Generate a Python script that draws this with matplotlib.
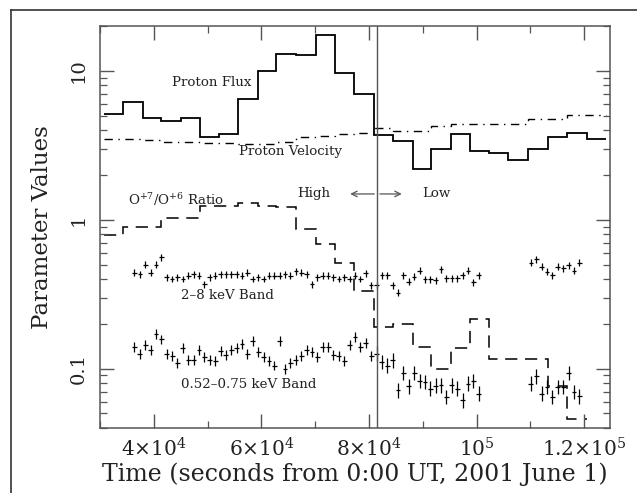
import matplotlib
matplotlib.use("Agg")
import matplotlib.pyplot as plt
import numpy as np
from matplotlib.lines import Line2D
from matplotlib.ticker import FixedLocator, FixedFormatter, MultipleLocator, LogLocator, NullFormatter

plt.rcParams["font.family"] = "DejaVu Serif"
plt.rcParams["mathtext.fontset"] = "dejavuserif"

# hourly bin edges (s) shared by the step curves
hour_edges = [30700, 34300, 37900, 41400, 45100, 48600, 52100, 55600, 59300,
              62800, 66400, 70200, 73600, 77300, 80900, 84400, 88100, 91600,
              95200, 98800, 102300, 105900, 109600, 113300, 116900, 120500, 124000]
proton_flux = [5.1, 6.2, 4.8, 4.6, 4.8, 3.6, 3.75, 6.5, 9.9, 13.0, 12.7, 17.3, 9.6,
               7.0, 3.7, 3.4, 2.2, 3.0, 3.75, 2.9, 2.8, 2.5, 3.0, 3.6, 3.85, 3.5]
proton_velocity = [3.47, 3.47, 3.45, 3.33, 3.31, 3.30, 3.26, 3.24, 3.24, 3.35, 3.62,
                   3.65, 3.78, 3.85, 4.1, 3.97, 3.97, 4.27, 4.4, 4.4, 4.4, 4.4,
                   4.75, 4.75, 5.06, 5.06]
o_ratio = [0.79, 0.89, 0.89, 1.03, 1.03, 1.24, 1.24, 1.3, 1.24, 1.22, 0.87, 0.69,
           0.51, 0.33, 0.19, 0.20, 0.14, 0.10, 0.137, 0.215, 0.116, 0.116, 0.116,
           0.077, 0.046]

# 1000 s light-curve bins
band_times = [36400, 37400, 38400, 39400, 40400, 41400, 42400, 43400, 44400, 45400,
              46400, 47400, 48400, 49400, 50400, 51400, 52400, 53400, 54400, 55400,
              56400, 57400, 58400, 59400, 60400, 61400, 62400, 63400, 64400, 65400,
              66400, 67400, 68400, 69400, 70400, 71400, 72400, 73400, 74400, 75400,
              76400, 77400, 78400, 79400, 80400, 81400, 82400, 83400, 84400, 85400,
              86400, 87400, 88400, 89400, 90400, 91400, 92400, 93400, 94400, 95400,
              96400, 97400, 98400, 99400, 100400]
hard_band = [0.44, 0.43, 0.50, 0.44, 0.50, 0.56, 0.41, 0.40, 0.41, 0.40,
             0.42, 0.43, 0.42, 0.37, 0.41, 0.42, 0.43, 0.43, 0.43, 0.43,
             0.42, 0.44, 0.40, 0.41, 0.40, 0.42, 0.42, 0.42, 0.43, 0.42,
             0.45, 0.44, 0.43, 0.37, 0.41, 0.42, 0.42, 0.41, 0.40, 0.41,
             0.40, 0.42, 0.40, 0.436, 0.364, 0.364, 0.425, 0.425, 0.364, 0.323,
             0.425, 0.383, 0.414, 0.454, 0.397, 0.397, 0.393, 0.464, 0.404, 0.404,
             0.404, 0.425, 0.454, 0.379, 0.425]
soft_band = [0.139, 0.125, 0.144, 0.134, 0.172, 0.157, 0.126, 0.121, 0.109, 0.137,
             0.115, 0.115, 0.134, 0.120, 0.115, 0.113, 0.132, 0.123, 0.133, 0.137,
             0.146, 0.126, 0.154, 0.129, 0.120, 0.113, 0.105, 0.154, 0.100, 0.109,
             0.114, 0.121, 0.134, 0.129, 0.120, 0.139, 0.140, 0.123, 0.121, 0.113,
             0.144, 0.162, 0.140, 0.148, 0.121, 0.126, 0.111, 0.105, 0.114, 0.0716,
             0.0936, 0.0762, 0.0936, 0.0827, 0.0814, 0.0735, 0.077, 0.0773, 0.0645, 0.0773,
             0.0735, 0.0614, 0.0794, 0.0827, 0.068]
late_times = [110100, 111100, 112100, 113100, 114100, 115100, 116100, 117100, 118100, 119100]
hard_late = [0.514, 0.542, 0.483, 0.447, 0.425, 0.483, 0.471, 0.496, 0.454, 0.514]
soft_late = [0.0794, 0.0889, 0.068, 0.0754, 0.0645, 0.0754, 0.0754, 0.0936, 0.0697, 0.0652]

boundary_time = 81500

fig = plt.figure(figsize=(6.37, 4.93), dpi=100)
ax = fig.add_axes([0.157, 0.132, 0.8006, 0.8153])

ax.stairs(proton_flux, hour_edges, baseline=None, color="k", lw=1.3)
ax.stairs(proton_velocity, hour_edges, baseline=None, color="k", lw=1.0,
          linestyle=(0, (6, 4, 1, 4)))
ax.stairs(o_ratio, hour_edges[:len(o_ratio) + 1], baseline=None, color="k", lw=1.1,
          linestyle=(0, (8, 5)))


def crosses(t, v, frac, half_w):
    v = np.asarray(v)
    lo = v - v / frac
    hi = v * frac - v
    ax.errorbar(t, v, xerr=half_w, yerr=[lo, hi], fmt="none", ecolor="k",
                elinewidth=0.9, capsize=0)


bt = np.asarray(band_times)
crosses(band_times, hard_band, 1.055, 430)
crosses(late_times, hard_late, 1.055, 430)
crosses(band_times, soft_band, np.where(bt < 81000, 1.08, 1.12), 450)
crosses(late_times, soft_late, 1.12, 450)

ax.axvline(boundary_time, color="#555555", lw=1.0)

ax.set_yscale("log")
ax.set_xlim(30000, 124800)
ax.set_ylim(0.04, 20)

ax.xaxis.set_major_locator(FixedLocator([40000, 60000, 80000, 100000, 120000]))
ax.xaxis.set_major_formatter(FixedFormatter(["4$\\times$10$^4$", "6$\\times$10$^4$",
                                             "8$\\times$10$^4$", "10$^5$",
                                             "1.2$\\times$10$^5$"]))
ax.xaxis.set_minor_locator(MultipleLocator(10000))
ax.yaxis.set_major_locator(FixedLocator([0.1, 1, 10]))
ax.yaxis.set_major_formatter(FixedFormatter(["0.1", "1", "10"]))
ax.yaxis.set_minor_locator(LogLocator(base=10, subs=np.arange(2, 10)))
ax.yaxis.set_minor_formatter(NullFormatter())

ax.tick_params(which="both", direction="in", top=True, right=True, color="#555555")
ax.tick_params(which="major", length=10, width=1.0)
ax.tick_params(which="minor", length=5, width=0.9)
ax.tick_params(axis="x", which="major", labelsize=14.5, pad=7, labelcolor="#222222")
ax.tick_params(axis="y", which="major", labelsize=14, pad=9, labelcolor="#222222")
for lab in ax.get_yticklabels():
    lab.set_rotation(90)
    lab.set_va("center")
for sp in ax.spines.values():
    sp.set_color("#555555")
    sp.set_linewidth(1.1)

ax.set_xlabel("Time (seconds from 0:00 UT, 2001 June 1)", fontsize=17,
              color="#222222", labelpad=1)
ax.set_ylabel("Parameter Values", fontsize=16.5, color="#222222", labelpad=12)

tc = "#222222"
fs = 9.6
ax.text(43300, 8.4, "Proton Flux", fontsize=fs, color=tc, va="center")
ax.text(55800, 2.87, "Proton Velocity", fontsize=fs, color=tc, va="center")
ax.text(35200, 1.36, "O$^{+7}$/O$^{+6}$ Ratio", fontsize=fs, color=tc, va="center")
ax.text(45100, 0.311, "2\u20138 keV Band", fontsize=fs, color=tc, va="center")
ax.text(45100, 0.0777, "0.52\u20130.75 keV Band", fontsize=fs, color=tc, va="center")
ax.text(72900, 1.49, "High", fontsize=fs, color=tc, va="center", ha="right")
ax.text(89900, 1.49, "Low", fontsize=fs, color=tc, va="center", ha="left")
ax.annotate("", xy=(76000, 1.49), xytext=(boundary_time, 1.49),
            arrowprops=dict(arrowstyle="->", color="#555555", lw=0.9))
ax.annotate("", xy=(86600, 1.49), xytext=(boundary_time, 1.49),
            arrowprops=dict(arrowstyle="->", color="#555555", lw=0.9))

# page frame (top and left edges visible in the crop)
fig.add_artist(Line2D([10.7 / 637, 10.7 / 637], [0, 1 - 9.5 / 493],
                      transform=fig.transFigure, color="#333333", lw=1.2))
fig.add_artist(Line2D([10.7 / 637, 1], [1 - 9.5 / 493, 1 - 9.5 / 493],
                      transform=fig.transFigure, color="#333333", lw=1.2))

fig.savefig("out.png", dpi=100)
